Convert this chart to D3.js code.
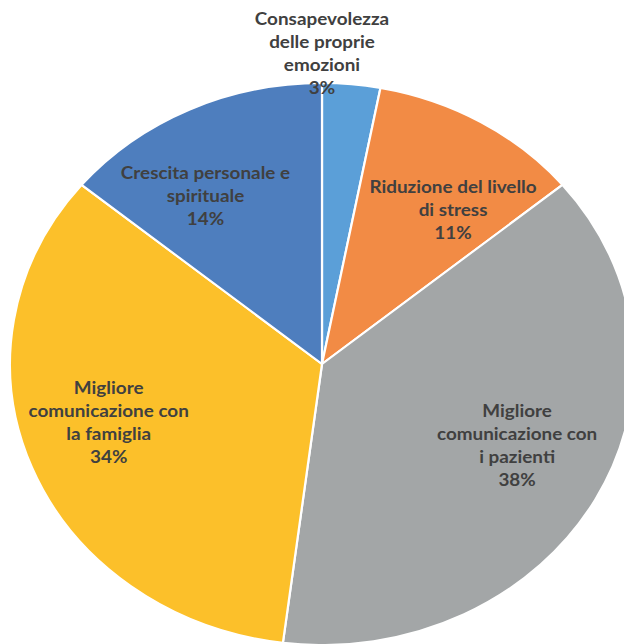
<!DOCTYPE html>
<html>
<head>
<meta charset="utf-8">
<script src="https://cdn.jsdelivr.net/npm/d3@7"></script>
<style>
  html, body { margin: 0; padding: 0; background: #ffffff; }
  svg { display: block; }
</style>
</head>
<body>
<svg id="chart" width="624" height="644"></svg>
<script>
// Benefici percepiti (percentuali)
const categories = [
  "Consapevolezza delle proprie emozioni",
  "Riduzione del livello di stress",
  "Migliore comunicazione con i pazienti",
  "Migliore comunicazione con la famiglia",
  "Crescita personale e spirituale"
];
const values = [3, 11, 38, 34, 14];
const labelLines = [
  ["Consapevolezza", "delle proprie", "emozioni"],
  ["Riduzione del livello", "di stress"],
  ["Migliore", "comunicazione con", "i pazienti"],
  ["Migliore", "comunicazione con", "la famiglia"],
  ["Crescita personale e", "spirituale"]
];
const colors = ["#5b9fd8", "#f28b45", "#a3a6a7", "#fcc02a", "#4e7ebe"];

// Layout
const cx = 322, cy = 364, ry = 281, rx = 312;
const sx = rx / ry;
// label anchor: angle (degrees from top, clockwise) and distance as fraction of radius
const labelAnchor = [
  { deg: 0, r: 1.105 },
  { deg: 37.5, r: 0.69 },
  { deg: 115, r: 0.69 },
  { deg: 253, r: 0.715 },
  { deg: 328, r: 0.705 }
];
const lineH = 23;

const svg = d3.select("#chart");
const g = svg.append("g")
  .attr("transform", `translate(${cx},${cy}) scale(${sx},1)`);

const pie = d3.pie().sort(null).value(d => d);
const arcs = pie(values);
const arc = d3.arc().innerRadius(0).outerRadius(ry);

g.selectAll("path.slice")
  .data(arcs)
  .join("path")
  .attr("class", "slice")
  .attr("d", arc)
  .attr("fill", (d, i) => colors[i])
  .attr("stroke", "#ffffff")
  .attr("stroke-width", 2)
  .attr("stroke-linejoin", "round");

g.selectAll("text.lbl")
  .data(arcs)
  .join("text")
  .attr("class", "lbl")
  .attr("text-anchor", "middle")
  .attr("font-family", "Lato, 'Open Sans', sans-serif")
  .attr("font-weight", "bold")
  .attr("font-size", "17px")
  .attr("fill", "#404040")
  .each(function(d, i) {
    const a = labelAnchor[i];
    const t = a.deg * Math.PI / 180;
    const x = Math.sin(t) * ry * a.r;
    const y = -Math.cos(t) * ry * a.r;
    const lines = labelLines[i].concat([Math.round(d.value) + "%"]);
    const top = y - (lines.length - 1) * lineH / 2;
    const sel = d3.select(this);
    lines.forEach((ln, k) => {
      sel.append("tspan")
        .attr("x", x)
        .attr("y", top + k * lineH)
        .attr("dy", "0.35em")
        .text(ln);
    });
  });
</script>
</body>
</html>
